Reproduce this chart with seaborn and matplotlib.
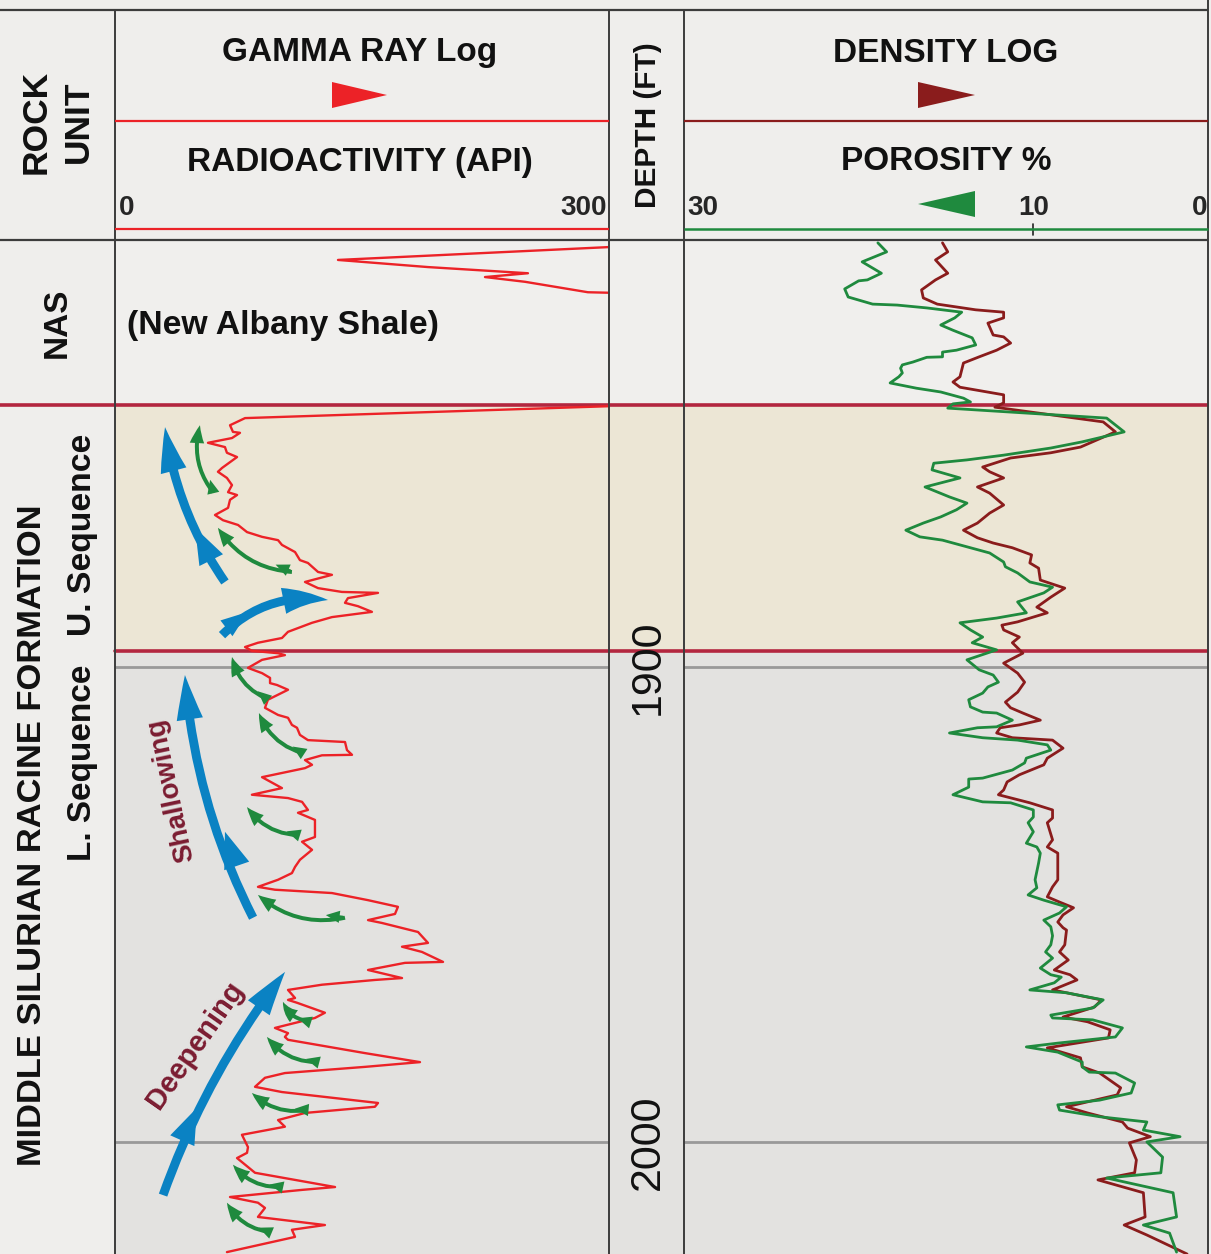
import matplotlib
matplotlib.use("Agg")
import matplotlib.pyplot as plt
from matplotlib.patches import Polygon, FancyArrowPatch, ArrowStyle
import seaborn as sns
import pandas as pd

# ---------------- data ----------------
zone_tops = [1844.8, 1896.6]           # NAS / U. Sequence / L. Sequence boundaries
depth_ticks = [1900, 2000]
gr_scale = [0, 300]
por_scale = [30, 10, 0]

gr_depth = [1809.0, 1811.6, 1814.3, 1815.8, 1817.1, 1817.9, 1818.9, 1821.1, 1821.2, 1823.0,
            1843.0, 1845.1, 1847.6, 1849.1, 1850.5, 1850.7, 1851.8, 1852.8, 1853.7, 1854.9,
            1855.8, 1858.1, 1858.9, 1860.2, 1861.7, 1863.2, 1863.8, 1864.8, 1866.5, 1868.0,
            1869.1, 1870.1, 1871.6, 1872.6, 1873.3, 1874.3, 1875.8, 1877.5, 1878.1, 1880.0,
            1880.6, 1882.1, 1883.4, 1884.2, 1884.4, 1885.5, 1886.5, 1887.2, 1888.4, 1889.5,
            1890.7, 1892.6, 1893.9, 1894.9, 1895.8, 1896.6, 1897.1, 1897.5, 1898.5, 1900.2,
            1901.3, 1902.3, 1903.4, 1903.8, 1904.8, 1906.9, 1908.6, 1910.1, 1910.7, 1912.2,
            1912.8, 1914.3, 1915.4, 1915.8, 1917.5, 1918.5, 1918.6, 1919.6, 1920.6, 1921.3,
            1923.2, 1925.5, 1926.9, 1927.6, 1928.4, 1930.1, 1930.7, 1932.2, 1935.8, 1936.8,
            1938.5, 1940.6, 1942.1, 1943.4, 1944.8, 1946.3, 1946.9, 1947.6, 1949.1, 1950.5,
            1952.0, 1953.3, 1953.9, 1955.8, 1958.1, 1958.9, 1960.0, 1962.1, 1962.3, 1963.8,
            1965.5, 1965.9, 1966.9, 1968.0, 1969.7, 1970.1, 1970.7, 1972.8, 1973.9, 1976.0,
            1977.1, 1977.9, 1978.5, 1981.3, 1983.2, 1984.2, 1985.5, 1986.5, 1988.4, 1989.5,
            1991.8, 1992.6, 1993.9, 1995.4, 1996.8, 1998.5, 2001.1, 2002.3, 2003.4, 2006.5,
            2009.5, 2010.1, 2011.6, 2012.8, 2013.9, 2015.8, 2017.5, 2018.5, 2020.0, 2023.2]
gr_api = [320.0, 300.6, 135.3, 190.4, 251.6, 225.3, 249.8, 288.3, 300.6, 330.0,
          330.0, 300.6, 78.4, 69.2, 71.0, 75.3, 70.4, 55.7, 66.1, 67.3,
          73.5, 64.3, 61.8, 67.3, 70.4, 68.0, 73.5, 69.2, 68.0, 60.0,
          64.9, 74.1, 79.6, 88.8, 98.6, 101.0, 109.0, 112.0, 116.9, 123.1,
          131.6, 115.1, 123.1, 137.7, 159.8, 141.4, 139.6, 147.5, 156.1, 131.6,
          119.4, 104.7, 101.0, 86.3, 78.4, 82.6, 98.6, 102.8, 88.8, 80.2,
          88.8, 93.7, 93.7, 98.0, 104.7, 92.4, 90.6, 98.6, 104.7, 107.1,
          110.2, 112.0, 116.9, 139.6, 140.8, 143.9, 125.5, 115.1, 119.4, 115.1,
          88.8, 101.0, 82.6, 104.7, 113.3, 116.9, 110.8, 121.2, 121.2, 113.3,
          119.4, 112.0, 109.0, 107.1, 98.6, 86.3, 96.7, 131.6, 153.7, 172.0,
          170.2, 153.7, 162.2, 184.3, 190.4, 174.5, 186.7, 199.6, 176.3, 153.7,
          174.5, 157.9, 125.5, 104.7, 109.0, 104.7, 110.2, 127.3, 121.2, 96.7,
          104.7, 102.8, 104.7, 151.8, 185.5, 151.8, 102.8, 90.6, 84.5, 101.0,
          159.8, 157.9, 115.1, 98.6, 102.8, 76.5, 80.2, 79.6, 73.5, 84.5,
          133.5, 113.3, 69.2, 86.3, 90.6, 86.3, 127.3, 107.1, 109.0, 67.3]

phi_depth = [1810.7, 1812.6, 1814.7, 1817.1, 1818.5, 1818.7, 1820.4, 1822.1, 1823.6, 1823.8,
             1824.4, 1825.3, 1826.5, 1828.0, 1829.1, 1830.7, 1832.2, 1833.3, 1833.7, 1834.7,
             1834.8, 1835.8, 1836.4, 1837.1, 1838.1, 1838.9, 1840.2, 1841.3, 1842.1, 1843.4,
             1844.2, 1844.6, 1845.5, 1847.6, 1850.5, 1852.6, 1853.9, 1855.4, 1856.4, 1857.1,
             1858.5, 1860.2, 1862.1, 1864.2, 1865.5, 1866.9, 1868.4, 1869.7, 1871.2, 1872.6,
             1873.3, 1874.7, 1876.0, 1877.9, 1878.9, 1880.2, 1882.1, 1883.2, 1884.4, 1886.3,
             1888.6, 1889.7, 1890.7, 1892.2, 1893.7, 1894.9, 1896.4, 1898.5, 1900.6, 1901.7,
             1903.2, 1904.2, 1905.5, 1906.9, 1908.4, 1909.5, 1909.7, 1911.2, 1912.6, 1912.8,
             1913.9, 1914.9, 1915.4, 1916.4, 1917.5, 1919.2, 1920.2, 1921.7, 1923.4, 1923.6,
             1925.3, 1926.9, 1928.4, 1928.6, 1930.1, 1931.6, 1932.8, 1934.7, 1937.1, 1937.9,
             1939.2, 1941.3, 1944.8, 1946.5, 1948.0, 1949.1, 1950.5, 1951.8, 1953.3, 1954.7,
             1956.6, 1958.5, 1960.0, 1961.3, 1963.4, 1964.8, 1965.3, 1966.5, 1968.0, 1968.6,
             1970.1, 1971.8, 1973.3, 1973.9, 1974.3, 1976.0, 1977.9, 1979.2, 1980.0, 1981.1,
             1983.2, 1984.2, 1985.3, 1985.5, 1987.6, 1989.7, 1991.2, 1992.2, 1993.3, 1994.7,
             1995.8, 1997.5, 1998.9, 2000.0, 2003.2, 2006.5, 2007.6, 2010.7, 2015.8, 2017.5,
             2019.2, 2023.2]
phi_por = [18.9, 18.4, 19.8, 18.7, 19.5, 20.0, 20.8, 20.6, 19.2, 17.8,
           16.1, 14.1, 14.5, 15.3, 14.6, 13.5, 13.3, 14.4, 15.2, 15.2,
           16.1, 16.9, 17.5, 17.6, 17.5, 17.7, 18.2, 16.7, 15.3, 14.0,
           13.6, 14.6, 14.9, 5.8, 4.8, 7.2, 9.0, 11.7, 13.8, 15.7,
           15.8, 14.2, 16.2, 14.8, 13.8, 14.4, 15.3, 16.3, 17.3, 16.5,
           15.2, 13.8, 12.5, 11.7, 11.6, 10.9, 10.2, 8.9, 9.4, 10.9,
           10.4, 12.1, 14.2, 13.6, 12.9, 13.5, 12.1, 13.8, 13.1, 12.3,
           12.0, 12.6, 12.9, 13.7, 13.6, 12.9, 12.1, 11.2, 12.1, 13.2,
           14.8, 12.9, 10.9, 9.2, 9.0, 10.4, 10.5, 11.2, 12.9, 13.7,
           13.7, 14.6, 12.9, 11.3, 10.0, 10.0, 10.3, 10.0, 10.4, 9.8,
           9.6, 9.7, 9.9, 9.8, 10.3, 9.4, 8.1, 8.5, 9.4, 9.0,
           8.9, 9.0, 9.3, 8.9, 9.6, 9.0, 8.4, 8.8, 10.2, 8.1,
           6.0, 6.6, 9.0, 8.9, 6.6, 4.9, 5.3, 8.6, 10.4, 8.6,
           7.2, 7.2, 6.8, 5.3, 4.2, 4.4, 6.2, 8.6, 8.5, 6.2,
           3.5, 3.7, 1.6, 3.5, 2.6, 2.7, 5.8, 2.0, 1.8, 3.7,
           2.2, 1.8]

den_depth = [1810.7, 1812.6, 1814.3, 1817.1, 1818.5, 1820.6, 1822.3, 1823.6, 1824.8, 1825.3,
             1826.5, 1827.6, 1830.1, 1830.5, 1831.8, 1833.3, 1834.7, 1836.0, 1838.9, 1840.0,
             1841.1, 1842.7, 1844.4, 1845.3, 1848.4, 1850.5, 1853.7, 1854.9, 1856.0, 1857.9,
             1858.9, 1860.2, 1862.1, 1863.4, 1865.9, 1867.6, 1869.7, 1871.2, 1872.8, 1873.9,
             1874.9, 1876.4, 1878.1, 1879.2, 1881.7, 1883.4, 1885.3, 1887.4, 1888.6, 1890.5,
             1891.2, 1892.2, 1893.7, 1894.9, 1897.1, 1899.2, 1901.3, 1903.2, 1905.3, 1907.4,
             1908.6, 1909.7, 1911.2, 1912.2, 1912.8, 1913.9, 1914.9, 1915.4, 1917.1, 1918.5,
             1919.2, 1920.6, 1922.7, 1924.2, 1925.9, 1926.9, 1928.6, 1930.1, 1931.8, 1932.8,
             1936.4, 1937.9, 1939.2, 1944.8, 1946.3, 1948.4, 1949.5, 1950.7, 1952.2, 1953.7,
             1954.9, 1955.4, 1958.5, 1960.0, 1961.7, 1963.8, 1964.8, 1965.9, 1968.0, 1970.1,
             1971.6, 1973.7, 1974.7, 1976.4, 1978.1, 1980.2, 1982.3, 1984.2, 1985.5, 1988.6,
             1990.1, 1992.6, 1993.9, 1995.8, 1997.1, 1998.9, 2000.2, 2003.8, 2006.5, 2008.0,
             2010.7, 2015.8, 2017.5, 2019.6, 2023.6]
den_por = [15.2, 14.9, 15.6, 14.9, 15.6, 16.4, 16.3, 15.5, 13.3, 11.7,
           11.7, 12.6, 12.3, 11.7, 11.3, 12.1, 13.1, 14.0, 14.2, 14.6,
           14.2, 11.7, 11.7, 12.2, 6.0, 5.3, 7.3, 9.0, 11.3, 12.9,
           12.5, 11.7, 13.2, 12.5, 11.7, 12.5, 13.2, 14.0, 13.2, 12.3,
           11.2, 10.1, 10.2, 9.7, 9.6, 8.2, 9.0, 9.8, 9.2, 10.9,
           11.8, 11.7, 10.8, 11.2, 10.6, 11.7, 10.9, 10.5, 10.9, 11.6,
           11.3, 10.6, 9.6, 10.8, 11.9, 12.1, 11.2, 8.9, 8.3, 8.9,
           9.2, 9.4, 10.8, 11.5, 11.7, 12.0, 10.2, 8.9, 8.9, 9.2,
           8.9, 9.2, 8.6, 8.6, 8.9, 9.2, 8.5, 7.7, 8.3, 8.6,
           8.3, 8.1, 8.2, 8.5, 8.0, 8.8, 7.9, 7.5, 8.9, 6.1,
           6.5, 8.3, 6.9, 5.6, 5.7, 9.2, 7.3, 7.2, 6.2, 5.0,
           5.2, 8.1, 6.9, 4.9, 4.6, 3.3, 4.5, 4.1, 4.2, 6.3,
           3.7, 3.6, 4.8, 3.5, 1.2]

# ---------------- style ----------------
W, H = 1211, 1254
RED, GREEN, DRED = "#ec2227", "#1f8a3e", "#8a1c1c"
BLUE, MAROON, CRIMSON = "#0a82c3", "#7b1c31", "#b3263f"
GRID, BORDER = "#999999", "#3c3c3c"
zone_colors = ["#f0efed", "#ece6d5", "#e3e2e0"]
D_TOP, D_BOT = 1810.1, 2023.6

sns.set_theme(style="white")
plt.rcParams["font.family"] = ["Liberation Sans", "DejaVu Sans"]

fig = plt.figure(figsize=(W / 100, H / 100), dpi=100)
fig.patch.set_facecolor("#efeeec")


def rect(x0, y0, x1, y1):
    return [x0 / W, 1 - y1 / H, (x1 - x0) / W, (y1 - y0) / H]


# zone bands across gamma, depth and density columns
band = fig.add_axes(rect(0, 240, 1208, H))
band.set_xlim(0, 1208)
band.set_ylim(D_BOT, D_TOP)
band.axis("off")
edges = [D_TOP] + zone_tops + [D_BOT]
for a, b, c in zip(edges[:-1], edges[1:], zone_colors):
    band.axhspan(a, b, xmin=115 / 1208, xmax=1, color=c, lw=0)

# gamma ray track
ax_gr = fig.add_axes(rect(115, 240, 609, H))
ax_gr.set_xlim(-1.22, 301.22)
ax_gr.set_ylim(D_BOT, D_TOP)
ax_gr.axis("off")
for d in depth_ticks:
    ax_gr.axhline(d, color=GRID, lw=2, zorder=1)
gr_df = pd.DataFrame({"depth": gr_depth, "api": gr_api})
sns.lineplot(data=gr_df, x="api", y="depth", sort=False, estimator=None, orient="y",
             color=RED, lw=1.7, ax=ax_gr, zorder=3)

# density / porosity track
ax_den = fig.add_axes(rect(684, 240, 1208, H))
ax_den.set_xlim(30, 0)
ax_den.set_ylim(D_BOT, D_TOP)
ax_den.axis("off")
for d in depth_ticks:
    ax_den.axhline(d, color=GRID, lw=2, zorder=1)
den_df = pd.DataFrame({"depth": den_depth, "por": den_por})
phi_df = pd.DataFrame({"depth": phi_depth, "por": phi_por})
sns.lineplot(data=den_df, x="por", y="depth", sort=False, estimator=None, orient="y",
             color=DRED, lw=2.0, ax=ax_den, zorder=3)
sns.lineplot(data=phi_df, x="por", y="depth", sort=False, estimator=None, orient="y",
             color=GREEN, lw=2.0, ax=ax_den, zorder=4)

# depth column labels
ax_dep = fig.add_axes(rect(609, 240, 684, H))
ax_dep.set_xlim(0, 1)
ax_dep.set_ylim(D_BOT, D_TOP)
ax_dep.axis("off")
for d in depth_ticks:
    ax_dep.text(0.52, d, str(d), rotation=90, ha="center", va="center",
                fontsize=31, color="#111111")

# boundary lines
band.axhline(zone_tops[0], xmin=0, xmax=1, color=CRIMSON, lw=2.6, zorder=5)
band.axhline(zone_tops[1], xmin=115 / 1208, xmax=1, color=CRIMSON, lw=2.6, zorder=5)


# annotation arrows on gamma track
def arrow(p0, p1, rad, col, ms, hl, hw, tw):
    st = ArrowStyle.Simple(head_length=hl, head_width=hw, tail_width=tw)
    ar = FancyArrowPatch(p0, p1, arrowstyle=st, mutation_scale=ms,
                         connectionstyle=f"arc3,rad={rad}", color=col, lw=0,
                         transform=ax_gr.transData, zorder=6, shrinkA=0, shrinkB=0)
    ax_gr.add_patch(ar)


# blue (sequence-scale) arrows: full arrow + a second head part way along
blue_arrows = [((66.1, 1882.1), (29.4, 1849.5), -0.12, (53.9, 1874.9), (47.8, 1870.7), 20),
               ((64.3, 1893.3), (129.2, 1885.9), -0.25, (68.0, 1891.6), (80.2, 1888.4), 15),
               ((83.3, 1952.8), (41.6, 1901.7), -0.1, (71.0, 1939.6), (66.1, 1934.7), 20),
               ((28.2, 2011.2), (102.9, 1964.2), -0.08, (42.9, 1997.5), (49.0, 1992.8), 20)]
for p0, p1, rad, m0, m1, ms in blue_arrows:
    arrow(p0, p1, rad, BLUE, 20, 1.6, 0.95, 0.32)
    arrow(m0, m1, 0.0, BLUE, ms, 1.3, 0.95, 0.3)

# green (cycle-scale) arrows with a small barb near the tail
green_arrows = [((58.8, 1863.2), (50.8, 1849.1)), ((107.1, 1880.0), (61.8, 1870.7)),
                ((90.6, 1906.5), (70.4, 1897.9)), ((113.3, 1918.1), (86.9, 1909.7)),
                ((110.8, 1935.4), (79.6, 1929.5)), ((139.6, 1952.8), (86.3, 1948.0)),
                ((113.3, 1974.3), (101.6, 1970.5)), ((122.4, 1983.2), (91.8, 1977.9)),
                ((116.3, 1993.3), (82.6, 1989.7)), ((99.8, 2009.5), (71.0, 2004.8)),
                ((92.4, 2018.9), (67.3, 2012.8))]
for p0, p1 in green_arrows:
    arrow(p0, p1, -0.25, GREEN, 13, 1.0, 0.8, 0.22)
    q0 = (p0[0] + 0.02 * (p1[0] - p0[0]), p0[1] + 0.02 * (p1[1] - p0[1]))
    q1 = (p0[0] + 0.22 * (p1[0] - p0[0]), p0[1] + 0.22 * (p1[1] - p0[1]) + 0.5)
    arrow(q0, q1, 0.0, GREEN, 11, 0.9, 0.8, 0.2)

ax_gr.text(33.5, 1925.9, "Shallowing", rotation=102, ha="center", va="center",
           fontsize=20, fontweight="bold", color=MAROON, zorder=7)
ax_gr.text(47.8, 1979.6, "Deepening", rotation=55, ha="center", va="center",
           fontsize=21, fontweight="bold", color=MAROON, zorder=7)
ax_gr.text(6.0, 1828.0, "(New Albany Shale)", ha="left", va="center",
           fontsize=24.3, fontweight="bold", color="#111111")

# header scales
h_gr = fig.add_axes(rect(115, 180, 609, 240))
h_gr.set_xlim(-1.22, 301.22); h_gr.set_ylim(240, 180); h_gr.axis("off")
h_gr.text(gr_scale[0] + 1, 208, str(gr_scale[0]), ha="left", va="center", fontsize=20, fontweight="bold")
h_gr.text(gr_scale[1], 208, str(gr_scale[1]), ha="right", va="center", fontsize=20, fontweight="bold")

h_den = fig.add_axes(rect(684, 180, 1208, 240))
h_den.set_xlim(30, 0); h_den.set_ylim(240, 180); h_den.axis("off")
h_den.text(por_scale[0] - 0.2, 208, str(por_scale[0]), ha="left", va="center", fontsize=20, fontweight="bold")
h_den.text(por_scale[1], 208, str(por_scale[1]), ha="center", va="center", fontsize=20, fontweight="bold")
h_den.text(por_scale[2] + 0.05, 208, str(por_scale[2]), ha="right", va="center", fontsize=20, fontweight="bold")
h_den.plot([por_scale[1], por_scale[1]], [224, 235], color="#222222", lw=1.2)

# overlay: frame lines, header texts, triangles
ov = fig.add_axes([0, 0, 1, 1])
ov.set_xlim(0, W); ov.set_ylim(H, 0); ov.axis("off")
ov.vlines([115, 609, 684], 10, H, color=BORDER, lw=1.4)
ov.vlines([1208], 0, H, color=BORDER, lw=1.4)
ov.hlines([10, 240], 0, 1208, color=BORDER, lw=1.6)
ov.hlines([121, 229], 115, 609, color=RED, lw=1.6)
ov.hlines([121], 684, 1208, color=DRED, lw=1.6)
ov.hlines([229], 684, 1208, color=GREEN, lw=1.8)

ov.add_patch(Polygon([(332, 82), (387, 95), (332, 108)], closed=True, color=RED, lw=0))
ov.add_patch(Polygon([(918, 82), (975, 95), (918, 108)], closed=True, color=DRED, lw=0))
ov.add_patch(Polygon([(975, 191), (918, 204), (975, 217)], closed=True, color=GREEN, lw=0))

kw = dict(fontweight="bold", color="#111111", ha="center", va="center")
ov.text(57, 122, "ROCK\nUNIT", rotation=90, fontsize=25.5, linespacing=1.35, **kw)
ov.text(360, 53, "GAMMA RAY Log", fontsize=24, **kw)
ov.text(360, 162, "RADIOACTIVITY (API)", fontsize=24, **kw)
ov.text(648, 125, "DEPTH (FT)", rotation=90, fontsize=21.5, **kw)
ov.text(946, 53, "DENSITY LOG", fontsize=24, **kw)
ov.text(946, 162, "POROSITY %", fontsize=24, **kw)
ov.text(57, 323, "NAS", rotation=90, fontsize=24, **kw)
ov.text(33, 835, "MIDDLE SILURIAN RACINE FORMATION", rotation=90, fontsize=24.8, **kw)
ov.text(83, 535, "U. Sequence", rotation=90, fontsize=24.3, **kw)
ov.text(83, 763, "L. Sequence", rotation=90, fontsize=24, **kw)

fig.savefig("out.png", dpi=100, facecolor=fig.get_facecolor())
